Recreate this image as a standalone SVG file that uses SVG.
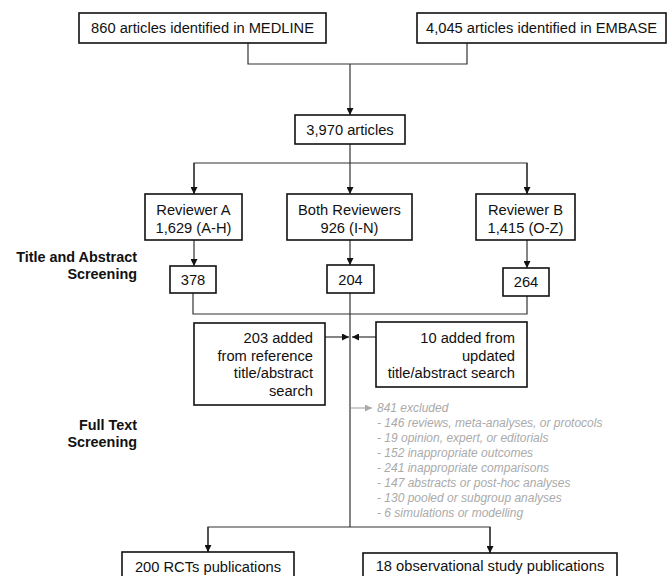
<svg xmlns="http://www.w3.org/2000/svg" width="668" height="576" viewBox="0 0 668 576">
<defs>
<style>
.box{fill:#fff;stroke:#111;stroke-width:1.6}
.t{font-family:"Liberation Sans",Arial,sans-serif;font-size:14.7px;fill:#111}
.c{text-anchor:middle}
.r{text-anchor:end}
.b{font-weight:bold;font-size:14.4px}
.ex{font-family:"Liberation Sans",Arial,sans-serif;font-size:12px;font-style:italic;fill:#aaa}
.ln{fill:none;stroke:#333;stroke-width:1.2}
.gl{fill:none;stroke:#aaa;stroke-width:1.2}
</style>
<marker id="ah" viewBox="0 0 10 10" refX="10" refY="5" markerWidth="7" markerHeight="7" markerUnits="userSpaceOnUse" orient="auto">
<path d="M0,0 L10,5 L0,10 Z" fill="#111"/>
</marker>
<marker id="ahg" viewBox="0 0 10 10" refX="10" refY="5" markerWidth="7" markerHeight="7" markerUnits="userSpaceOnUse" orient="auto">
<path d="M0,0 L10,5 L0,10 Z" fill="#aaa"/>
</marker>
</defs>
<rect width="668" height="576" fill="#fff"/>
<g id="connectors">
<path class="ln" d="M248,43 V64 H467 V43"/>
<path class="ln" d="M350,64 V115" marker-end="url(#ah)"/>
<path class="ln" d="M350,144 V163"/>
<path class="ln" d="M194,194 V163 H527 V194" />
<path class="ln" d="M194,163 V194" marker-end="url(#ah)"/>
<path class="ln" d="M350,163 V194" marker-end="url(#ah)"/>
<path class="ln" d="M527,163 V194" marker-end="url(#ah)"/>
<path class="ln" d="M194,240 V266" marker-end="url(#ah)"/>
<path class="ln" d="M350,240 V265" marker-end="url(#ah)"/>
<path class="ln" d="M527,240 V268" marker-end="url(#ah)"/>
<path class="ln" d="M193,293 V314 H527 V296"/>
<path class="ln" d="M350,293 V527"/>
<path class="ln" d="M325,337 H349" marker-end="url(#ah)"/>
<path class="ln" d="M376,337 H352" marker-end="url(#ah)"/>
<path class="gl" d="M351,408 H372" marker-end="url(#ahg)"/>
<path class="ln" d="M208,552 V527 H490 V553"/>
<path class="ln" d="M208,527 V552" marker-end="url(#ah)"/>
<path class="ln" d="M490,527 V553" marker-end="url(#ah)"/>
</g>
<g id="medline">
<rect class="box" x="79" y="13" width="247" height="30"/>
<text class="t c" x="202.5" y="33">860 articles identified in MEDLINE</text>
</g>
<g id="embase">
<rect class="box" x="417" y="13" width="249" height="30"/>
<text class="t c" x="541.5" y="33">4,045 articles identified in EMBASE</text>
</g>
<g id="articles">
<rect class="box" x="295" y="115" width="110" height="29"/>
<text class="t c" x="350" y="135">3,970 articles</text>
</g>
<g id="reviewerA">
<rect class="box" x="145" y="194" width="97" height="46"/>
<text class="t c" x="193.5" y="215">Reviewer A</text>
<text class="t c" x="193.5" y="233">1,629 (A-H)</text>
</g>
<g id="bothReviewers">
<rect class="box" x="287" y="194" width="125" height="46"/>
<text class="t c" x="349.5" y="215">Both Reviewers</text>
<text class="t c" x="349.5" y="233">926 (I-N)</text>
</g>
<g id="reviewerB">
<rect class="box" x="476" y="194" width="99" height="46"/>
<text class="t c" x="525.5" y="215">Reviewer B</text>
<text class="t c" x="525.5" y="233">1,415 (O-Z)</text>
</g>
<g id="label-title-abstract">
<text class="t b r" x="137" y="262">Title and Abstract</text>
<text class="t b r" x="137" y="279">Screening</text>
</g>
<g id="n378">
<rect class="box" x="170" y="266" width="46" height="27"/>
<text class="t c" x="193" y="285">378</text>
</g>
<g id="n204">
<rect class="box" x="327" y="265" width="47" height="28"/>
<text class="t c" x="350.5" y="285">204</text>
</g>
<g id="n264">
<rect class="box" x="503" y="268" width="46" height="28"/>
<text class="t c" x="526" y="287">264</text>
</g>
<g id="added203">
<rect class="box" x="194" y="323" width="131" height="82"/>
<text class="t r" x="313" y="343">203 added</text>
<text class="t r" x="313" y="360.5">from reference</text>
<text class="t r" x="313" y="378">title/abstract</text>
<text class="t r" x="313" y="395.5">search</text>
</g>
<g id="added10">
<rect class="box" x="376" y="322" width="151" height="65"/>
<text class="t r" x="515" y="343">10 added from</text>
<text class="t r" x="515" y="360.5">updated</text>
<text class="t r" x="515" y="378">title/abstract search</text>
</g>
<g id="label-full-text">
<text class="t b r" x="137" y="430">Full Text</text>
<text class="t b r" x="137" y="447">Screening</text>
</g>
<g id="excluded">
<text class="ex" x="377" y="412">841 excluded</text>
<text class="ex" x="377" y="427">- 146 reviews, meta-analyses, or protocols</text>
<text class="ex" x="377" y="442">- 19 opinion, expert, or editorials</text>
<text class="ex" x="377" y="457">- 152 inappropriate outcomes</text>
<text class="ex" x="377" y="472">- 241 inappropriate comparisons</text>
<text class="ex" x="377" y="487">- 147 abstracts or post-hoc analyses</text>
<text class="ex" x="377" y="502">- 130 pooled or subgroup analyses</text>
<text class="ex" x="377" y="517">- 6 simulations or modelling</text>
</g>
<g id="rcts">
<rect class="box" x="122" y="552" width="172" height="30"/>
<text class="t c" x="208" y="572">200 RCTs publications</text>
</g>
<g id="observational">
<rect class="box" x="363" y="553" width="254" height="30"/>
<text class="t c" x="490" y="571">18 observational study publications</text>
</g>
</svg>
